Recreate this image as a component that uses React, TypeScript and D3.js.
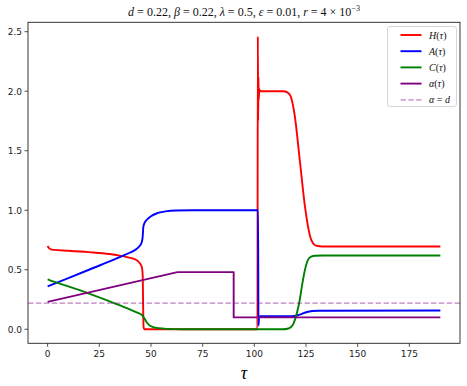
import React from "react";
import * as d3 from "d3";

const H_POINTS: [number, number][] = [
  [0, 0.70], [0.5, 0.685], [1.5, 0.672], [3, 0.667], [10, 0.66], [20, 0.648], [30, 0.632],
  [36, 0.615], [40, 0.60], [42, 0.59], [43.5, 0.575], [44.8, 0.55], [45.6, 0.52], [46, 0.45],
  [46.2, 0.2], [46.4, 0.02], [46.7, 0], [101.5, 0], [101.7, 2.46], [101.85, 1.75], [102.0, 2.12],
  [102.15, 1.93], [102.35, 2.02], [102.7, 2.0], [114, 2.0], [116, 1.99], [117.5, 1.96],
  [119.5, 1.80], [122, 1.42], [124.5, 1.03], [127, 0.78], [128.5, 0.72], [130.5, 0.70],
  [135, 0.695], [190, 0.695],
];
const A_POINTS: [number, number][] = [
  [0, 0.36], [10, 0.43], [20, 0.50], [30, 0.57], [36, 0.615], [40, 0.645], [43, 0.675],
  [44.5, 0.70], [45.5, 0.73], [46, 0.78], [46.3, 0.86], [46.8, 0.89], [48, 0.92], [50, 0.95],
  [53, 0.975], [57, 0.99], [62, 0.998], [70, 1.0], [101.8, 1.0], [102.0, 0.03], [102.3, 0.10],
  [102.8, 0.11], [118, 0.11], [121, 0.118], [123, 0.13], [125.5, 0.145], [128, 0.153],
  [131, 0.156], [190, 0.157],
];
const C_POINTS: [number, number][] = [
  [0, 0.42], [3, 0.40], [10, 0.36], [20, 0.30], [30, 0.235], [35, 0.20], [40, 0.165],
  [44, 0.135], [45.6, 0.12], [47, 0.085], [48, 0.057], [49, 0.037], [51, 0.018], [54, 0.008],
  [58, 0.003], [65, 0.0], [114, 0], [116, 0.004], [117.5, 0.015], [119, 0.05], [120.5, 0.13],
  [122, 0.25], [123, 0.36], [124.5, 0.50], [126, 0.585], [127.5, 0.61], [129.5, 0.618],
  [133, 0.62], [190, 0.62],
];
const ALPHA_POINTS: [number, number][] = [
  [0, 0.23], [62.8, 0.48], [90, 0.48], [90.01, 0.10], [190, 0.10],
];
const D_VALUE = 0.22;
const X_TICKS = [0, 25, 50, 75, 100, 125, 150, 175];
const Y_TICKS = [0.0, 0.5, 1.0, 1.5, 2.0, 2.5];
const LEGEND = [
  { label: "H", color: "#ff0000", dash: false },
  { label: "A", color: "#0000ff", dash: false },
  { label: "C", color: "#008000", dash: false },
  { label: "α", color: "#800080", dash: false },
  { label: "α=d", color: "rgba(128,0,128,0.5)", dash: true },
];

const W = 467, H = 386;
const L = 28, R = 460, T = 22.3, B = 343.3;

export default function App() {
  const x = d3.scaleLinear().domain([-9.5, 199.5]).range([L, R]);
  const y = d3.scaleLinear().domain([-0.118, 2.579]).range([B, T]);
  const smooth = d3.line<[number, number]>().x(d => x(d[0])).y(d => y(d[1])).curve(d3.curveMonotoneX);
  const straight = d3.line<[number, number]>().x(d => x(d[0])).y(d => y(d[1]));
  const series = [
    { pts: H_POINTS, color: "#ff0000", gen: smooth },
    { pts: A_POINTS, color: "#0000ff", gen: smooth },
    { pts: C_POINTS, color: "#008000", gen: smooth },
    { pts: ALPHA_POINTS, color: "#800080", gen: straight },
  ];
  const serif = "'Liberation Serif', 'DejaVu Serif', serif";
  const sans = "'DejaVu Sans', sans-serif";
  return (
    <svg width={W} height={H} style={{ position: "absolute", left: 0, top: 0, background: "#fff" }}>
      <defs>
        <clipPath id="plot"><rect x={L} y={T} width={R - L} height={B - T} /></clipPath>
      </defs>
      <rect x={0} y={0} width={W} height={H} fill="#fff" />
      <g clipPath="url(#plot)">
        {series.map((s, i) => (
          <path key={i} d={s.gen(s.pts) || ""} fill="none" stroke={s.color} strokeWidth={1.9} strokeLinejoin="round" />
        ))}
        <line x1={L} x2={R} y1={y(D_VALUE)} y2={y(D_VALUE)} stroke="rgba(128,0,128,0.5)" strokeWidth={1.2} strokeDasharray="5.5,2.4" />
      </g>
      <rect x={L} y={T} width={R - L} height={B - T} fill="none" stroke="#222" strokeWidth={0.9} />
      {X_TICKS.map(t => (
        <g key={t}>
          <line x1={x(t)} x2={x(t)} y1={B} y2={B + 3.5} stroke="#222" strokeWidth={0.8} />
          <text x={x(t)} y={B + 14} fontSize={9} fontFamily={sans} textAnchor="middle" fill="#222">{t}</text>
        </g>
      ))}
      {Y_TICKS.map(t => (
        <g key={t}>
          <line x1={L - 3.5} x2={L} y1={y(t)} y2={y(t)} stroke="#222" strokeWidth={0.8} />
          <text x={L - 6} y={y(t) + 3.3} fontSize={9} fontFamily={sans} textAnchor="end" fill="#222">{t.toFixed(1)}</text>
        </g>
      ))}
      <text x={(L + R) / 2} y={379} fontSize={18} fontFamily={serif} fontStyle="italic" textAnchor="middle">τ</text>
      <text x={(L + R) / 2} y={15.5} fontSize={12} fontFamily={serif} textAnchor="middle" fill="#111">
        <tspan fontStyle="italic">d</tspan><tspan> = 0.22, </tspan>
        <tspan fontStyle="italic">β</tspan><tspan> = 0.22, </tspan>
        <tspan fontStyle="italic">λ</tspan><tspan> = 0.5, </tspan>
        <tspan fontStyle="italic">ε</tspan><tspan> = 0.01, </tspan>
        <tspan fontStyle="italic">r</tspan><tspan> = 4 × 10</tspan>
        <tspan fontSize={8} dy={-5}>−3</tspan>
      </text>
      <rect x={387.5} y={26.5} width={69} height={80} rx={2.5} fill="rgba(255,255,255,0.8)" stroke="#ccc" strokeWidth={0.8} />
      {LEGEND.map((e, i) => {
        const ly = 35 + i * 16.2;
        return (
          <g key={i}>
            <line x1={400.5} x2={421.5} y1={ly} y2={ly} stroke={e.color} strokeWidth={e.dash ? 1.2 : 1.9} strokeDasharray={e.dash ? "5.5,2.4" : undefined} />
            <text x={429} y={ly + 3.5} fontSize={10} fontFamily={serif} fill="#111">
              {e.dash ? (
                <><tspan fontStyle="italic">α</tspan><tspan> = </tspan><tspan fontStyle="italic">d</tspan></>
              ) : (
                <><tspan fontStyle="italic">{e.label}</tspan><tspan>(</tspan><tspan fontStyle="italic">τ</tspan><tspan>)</tspan></>
              )}
            </text>
          </g>
        );
      })}
    </svg>
  );
}
